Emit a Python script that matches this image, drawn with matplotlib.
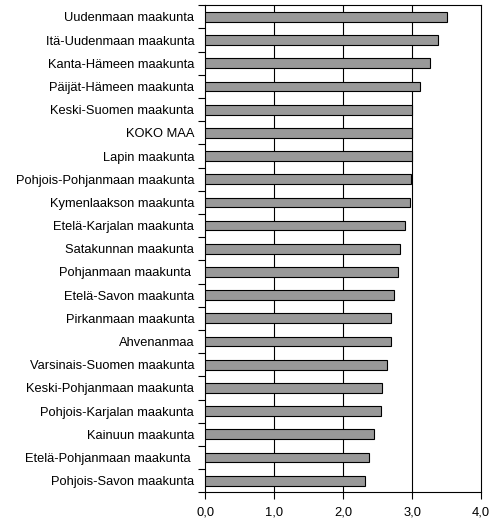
import matplotlib
matplotlib.use("Agg")
import matplotlib.pyplot as plt
import numpy as np

categories = [
    "Uudenmaan maakunta",
    "Itä-Uudenmaan maakunta",
    "Kanta-Hämeen maakunta",
    "Päijät-Hämeen maakunta",
    "Keski-Suomen maakunta",
    "KOKO MAA",
    "Lapin maakunta",
    "Pohjois-Pohjanmaan maakunta",
    "Kymenlaakson maakunta",
    "Etelä-Karjalan maakunta",
    "Satakunnan maakunta",
    "Pohjanmaan maakunta ",
    "Etelä-Savon maakunta",
    "Pirkanmaan maakunta",
    "Ahvenanmaa",
    "Varsinais-Suomen maakunta",
    "Keski-Pohjanmaan maakunta",
    "Pohjois-Karjalan maakunta",
    "Kainuun maakunta",
    "Etelä-Pohjanmaan maakunta ",
    "Pohjois-Savon maakunta",
]
values = [3.50, 3.37, 3.26, 3.12, 3.00, 3.00, 3.00, 2.99, 2.97, 2.90, 2.83,
          2.79, 2.73, 2.70, 2.70, 2.63, 2.57, 2.55, 2.44, 2.37, 2.32]
xticks = [0, 1, 2, 3, 4]
xticklabels = ["0,0", "1,0", "2,0", "3,0", "4,0"]

plt.rcParams['font.family'] = ['Liberation Sans', 'DejaVu Sans']

fig = plt.figure(figsize=(4.97, 5.28), dpi=100)
ax = fig.add_axes([0.413, 0.0676, 0.555, 0.9224])

y = np.arange(len(categories))
ax.barh(y, values, height=0.42, color='#999999', edgecolor='black', linewidth=0.8, zorder=3)

ax.set_xlim(0, 4)
ax.set_ylim(len(categories) - 0.5, -0.5)
ax.set_xticks(xticks)
ax.set_xticklabels(xticklabels, fontsize=9.3)
for xv in xticks[1:-1]:
    ax.axvline(xv, color='black', linewidth=0.8, zorder=1)

ax.set_yticks(np.arange(-0.5, len(categories), 1.0))
ax.set_yticklabels([])
ax.set_yticks(y, minor=True)
ax.set_yticklabels(categories, minor=True, fontsize=9.3)
ax.tick_params(axis='y', which='major', direction='out', length=5, width=0.8)
ax.tick_params(axis='y', which='minor', length=0, pad=8)
ax.tick_params(axis='x', direction='out', length=5, width=0.8, pad=5)

for s in ax.spines.values():
    s.set_linewidth(0.8)
    s.set_color('black')

fig.savefig("out.png", dpi=100)
